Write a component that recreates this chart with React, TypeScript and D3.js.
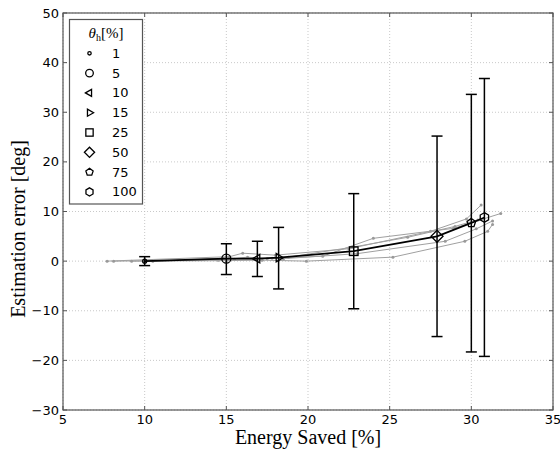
import React from 'react';
import * as d3 from 'd3';

// theta_h levels (legend) and the mean curve
const thetaLevels = ['1', '5', '10', '15', '25', '50', '75', '100'];
const markerTypes = ['dot', 'circle', 'triLeft', 'triRight', 'square', 'diamond', 'pentagon', 'hexagon'];

const meanEnergy = [10.0, 15.0, 16.9, 18.2, 22.8, 27.9, 30.0, 30.8];
const meanError = [0.0, 0.5, 0.5, 0.7, 2.0, 5.0, 7.7, 8.8];
const errUpper = [0.9, 3.5, 4.0, 6.8, 13.6, 25.2, 33.6, 36.8];
const errLower = [-0.9, -2.7, -3.1, -5.6, -9.6, -15.2, -18.3, -19.2];

// individual runs (gray)
const runEnergy = [
  [7.7, 15.2, 16.0, 18.0, 22.5, 27.5, 29.7, 30.6],
  [8.1, 14.5, 16.3, 17.5, 20.9, 24.0, 28.9, 31.8],
  [9.2, 15.0, 17.2, 19.9, 25.2, 29.6, 31.0, 31.3],
  [10.0, 15.5, 17.8, 18.5, 23.0, 28.4, 30.3, 31.3],
  [10.5, 14.8, 16.7, 18.8, 22.7, 26.1, 29.0, 30.4],
];
const runError = [
  [0.0, 0.9, 1.6, 1.2, 2.5, 6.0, 8.5, 11.3],
  [0.0, 0.2, 0.8, 0.5, 1.0, 4.6, 6.6, 9.6],
  [0.0, 0.1, 0.2, 0.0, 0.8, 4.0, 6.0, 7.4],
  [0.0, 0.4, 0.6, 0.5, 1.5, 4.0, 6.5, 8.1],
  [0.0, 0.6, 0.4, 0.8, 2.8, 4.8, 7.0, 8.3],
];

const xTicks = [5, 10, 15, 20, 25, 30, 35];
const yTicks = [-30, -20, -10, 0, 10, 20, 30, 40, 50];

const left = 63, right = 553, top = 13, bottom = 410;
const tickFont = '"DejaVu Sans", sans-serif';
const serif = '"Liberation Serif", "DejaVu Serif", serif';

function polygon(n: number, r: number, rot: number) {
  const pts: string[] = [];
  for (let i = 0; i < n; i++) {
    const a = rot + (i * 2 * Math.PI) / n;
    pts.push(`${(r * Math.cos(a)).toFixed(2)},${(r * Math.sin(a)).toFixed(2)}`);
  }
  return pts.join(' ');
}

function Marker({ type, x, y, s = 1 }: { type: string; x: number; y: number; s?: number }) {
  const common = { fill: 'none', stroke: '#000', strokeWidth: 1.3 };
  const t = `translate(${x},${y})`;
  switch (type) {
    case 'dot':
      return <circle cx={x} cy={y} r={2 * s} {...common} />;
    case 'circle':
      return <circle cx={x} cy={y} r={4.5 * s} {...common} />;
    case 'triLeft':
      return <polygon transform={t} points={polygon(3, 4.8 * s, Math.PI)} {...common} />;
    case 'triRight':
      return <polygon transform={t} points={polygon(3, 4.8 * s, 0)} {...common} />;
    case 'square':
      return <rect x={x - 4.3 * s} y={y - 4.3 * s} width={8.6 * s} height={8.6 * s} {...common} />;
    case 'diamond':
      return <polygon transform={t} points={polygon(4, 6 * s, 0)} {...common} />;
    case 'pentagon':
      return <polygon transform={t} points={polygon(5, 4.5 * s, -Math.PI / 2)} {...common} />;
    default:
      return <polygon transform={t} points={polygon(6, 4.8 * s, -Math.PI / 2)} {...common} />;
  }
}

export default function App() {
  const x = d3.scaleLinear().domain([5, 35]).range([left, right]);
  const y = d3.scaleLinear().domain([-30, 50]).range([bottom, top]);
  const line = d3.line<[number, number]>().x((d) => x(d[0])).y((d) => y(d[1]));

  const meanPts: [number, number][] = meanEnergy.map((e, i) => [e, meanError[i]]);

  return (
    <svg width={560} height={450} style={{ display: 'block', position: 'absolute', left: 0, top: 0 }}>
      <rect width={560} height={450} fill="#fff" />
      {/* grid */}
      {xTicks.map((t) => (
        <line key={'gx' + t} x1={x(t)} x2={x(t)} y1={top} y2={bottom} stroke="#bbb" strokeWidth={0.8} strokeDasharray="1,2" />
      ))}
      {yTicks.map((t) => (
        <line key={'gy' + t} x1={left} x2={right} y1={y(t)} y2={y(t)} stroke="#bbb" strokeWidth={0.8} strokeDasharray="1,2" />
      ))}

      {/* gray runs */}
      {runEnergy.map((run, k) => {
        const pts: [number, number][] = run.map((e, i) => [e, runError[k][i]]);
        return (
          <g key={'run' + k}>
            <path d={line(pts) || ''} fill="none" stroke="#a0a0a0" strokeWidth={1} />
            {pts.map((p, i) => (
              <circle key={i} cx={x(p[0])} cy={y(p[1])} r={1.5} fill="#999" />
            ))}
          </g>
        );
      })}

      {/* error bars */}
      {meanEnergy.map((e, i) => (
        <g key={'eb' + i} stroke="#000" strokeWidth={1.5}>
          <line x1={x(e)} x2={x(e)} y1={y(errUpper[i])} y2={y(errLower[i])} />
          <line x1={x(e) - 5.5} x2={x(e) + 5.5} y1={y(errUpper[i])} y2={y(errUpper[i])} />
          <line x1={x(e) - 5.5} x2={x(e) + 5.5} y1={y(errLower[i])} y2={y(errLower[i])} />
        </g>
      ))}

      {/* mean line */}
      <path d={line(meanPts) || ''} fill="none" stroke="#000" strokeWidth={1.7} />
      {meanPts.map((p, i) => (
        <Marker key={'m' + i} type={markerTypes[i]} x={x(p[0])} y={y(p[1])} />
      ))}

      {/* frame and ticks */}
      <rect x={left} y={top} width={right - left} height={bottom - top} fill="none" stroke="#555" strokeWidth={1.2} />
      {xTicks.map((t) => (
        <g key={'xt' + t}>
          <line x1={x(t)} x2={x(t)} y1={bottom} y2={bottom - 4} stroke="#555" />
          <line x1={x(t)} x2={x(t)} y1={top} y2={top + 4} stroke="#555" />
          <text x={x(t)} y={424} textAnchor="middle" fontFamily={tickFont} fontSize={13}>{t}</text>
        </g>
      ))}
      {yTicks.map((t) => (
        <g key={'yt' + t}>
          <line x1={left} x2={left + 4} y1={y(t)} y2={y(t)} stroke="#555" />
          <line x1={right} x2={right - 4} y1={y(t)} y2={y(t)} stroke="#555" />
          <text x={left - 4} y={y(t) + 4.5} textAnchor="end" fontFamily={tickFont} fontSize={13}>
            {t < 0 ? '\u2212' + Math.abs(t) : t}
          </text>
        </g>
      ))}

      {/* axis titles */}
      <text x={(left + right) / 2} y={444} textAnchor="middle" fontFamily={serif} fontSize={20}>
        Energy Saved [%]
      </text>
      <text transform={`translate(25,229) rotate(-90)`} textAnchor="middle" fontFamily={serif} fontSize={20}>
        Estimation error [deg]
      </text>

      {/* legend */}
      <rect x={69.5} y={19.5} width={73} height={184.5} fill="#fff" stroke="#555" strokeWidth={1.2} />
      <text x={106} y={38} textAnchor="middle" fontFamily={serif} fontSize={15}>
        <tspan fontStyle="italic">θ</tspan>
        <tspan fontSize={10} dy={3}>h</tspan>
        <tspan dy={-3}>[%]</tspan>
      </text>
      {thetaLevels.map((lab, i) => {
        const ly = 53.3 + i * 19.8;
        return (
          <g key={'lg' + i}>
            <Marker type={markerTypes[i]} x={89.5} y={ly} s={0.85} />
            <text x={112} y={ly + 4.5} fontFamily={tickFont} fontSize={13}>{lab}</text>
          </g>
        );
      })}
    </svg>
  );
}
